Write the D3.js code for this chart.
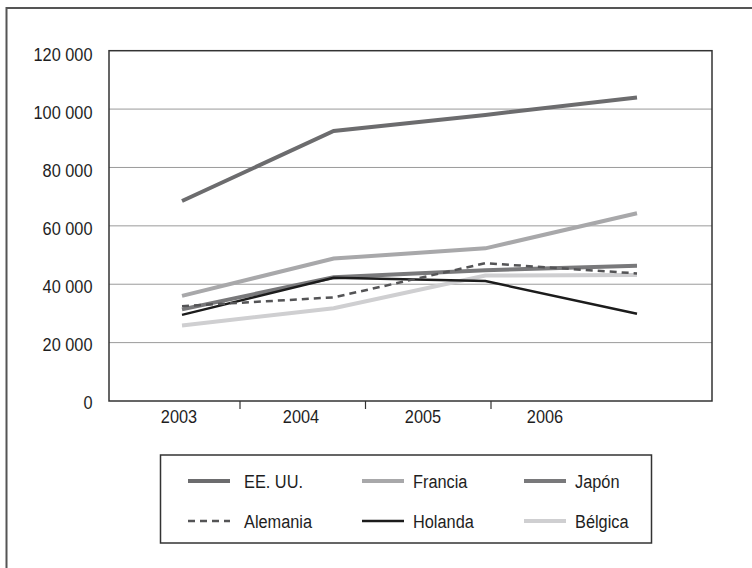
<!DOCTYPE html>
<html>
<head>
<meta charset="utf-8">
<script src="https://cdn.jsdelivr.net/npm/d3@7"></script>
<style>
body{margin:0;background:#fff;}
svg text{font-family:"Liberation Sans",Arial,sans-serif;font-size:19px;fill:#1e1e1e;}
</style>
</head>
<body>
<div id="chart"></div>
<script>
// données
var years = ["2003","2004","2005","2006"];
var eeuu     = [68500, 92500, 98000, 104000];
var francia  = [36000, 48800, 52300, 64300];
var japon    = [31400, 42400, 44800, 46300];
var alemania = [32500, 35500, 47200, 43700];
var holanda  = [29500, 42200, 41100, 29900];
var belgica  = [25900, 31800, 43000, 43200];
var yTicks = [0, 20000, 40000, 60000, 80000, 100000, 120000];

var series = [
	{name:"EE. UU.",  values:eeuu,     color:"#6c6c6e", width:4,   dash:null},
	{name:"Francia",  values:francia,  color:"#a8a8aa", width:4,   dash:null},
	{name:"Japón",    values:japon,    color:"#79797b", width:4,   dash:null},
	{name:"Alemania", values:alemania, color:"#545456", width:2.5, dash:"7,5"},
	{name:"Holanda",  values:holanda,  color:"#1c1c1c", width:2.5, dash:null},
	{name:"Bélgica",  values:belgica,  color:"#cfcfd1", width:4,   dash:null}
];
var drawOrder = ["Bélgica","Francia","Japón","Holanda","Alemania","EE. UU."];

var W = 752, H = 568;
var plot = {left:109, top:50.7, right:712, bottom:401};
var narrow = 0.86; // police étroite simulée

var svg = d3.select("#chart").append("svg")
	.attr("width", W)
	.attr("height", H);

function place(x, y) {
	return "translate(" + x + "," + y + ") scale(" + narrow + ",1)";
}

// cadre extérieur
svg.append("rect")
	.attr("x", 6.5).attr("y", 8)
	.attr("width", 800).attr("height", 600)
	.attr("fill", "none")
	.attr("stroke", "#555")
	.attr("stroke-width", 2);

var y = d3.scaleLinear()
	.domain([0, 120000])
	.range([plot.bottom, plot.top]);

// position des points
var x = d3.scalePoint()
	.domain(years)
	.range([182, 637]);

// étiquettes et graduations de l'axe x
var xLabel = d3.scaleBand().domain(years).range([118, 606]);
var xTick = d3.scaleBand().domain(years).range([114.5, 616.5]);

var fmt = d3.formatLocale({decimal:",", thousands:" ", grouping:[3], currency:["",""]}).format(",d");

// grille
svg.append("g").selectAll("line")
	.data(yTicks.filter(function(d){ return d > 0 && d < 120000; }))
	.enter().append("line")
	.attr("x1", plot.left).attr("x2", plot.right)
	.attr("y1", function(d){ return y(d); })
	.attr("y2", function(d){ return y(d); })
	.attr("stroke", "#9a9a9a")
	.attr("stroke-width", 1);

// cadre du graphe
svg.append("rect")
	.attr("x", plot.left).attr("y", plot.top)
	.attr("width", plot.right - plot.left)
	.attr("height", plot.bottom - plot.top)
	.attr("fill", "none")
	.attr("stroke", "#333")
	.attr("stroke-width", 1.5);

// étiquettes y
svg.append("g").selectAll("text")
	.data(yTicks)
	.enter().append("text")
	.attr("transform", function(d){ return place(92.5, y(d) + 1 + 3 * d / 120000); })
	.attr("dy", "0.35em")
	.attr("text-anchor", "end")
	.text(function(d){ return fmt(d); });

// graduations x
svg.append("g").selectAll("line")
	.data(years.slice(1))
	.enter().append("line")
	.attr("x1", function(d){ return xTick(d); })
	.attr("x2", function(d){ return xTick(d); })
	.attr("y1", plot.bottom)
	.attr("y2", plot.bottom + 8)
	.attr("stroke", "#333")
	.attr("stroke-width", 1.2);

svg.append("g").selectAll("text")
	.data(years)
	.enter().append("text")
	.attr("transform", function(d){ return place(xLabel(d) + xLabel.bandwidth() / 2, 416.5); })
	.attr("dy", "0.35em")
	.attr("text-anchor", "middle")
	.text(function(d){ return d; });

// courbes
var line = d3.line()
	.x(function(d, i){ return x(years[i]); })
	.y(function(d){ return y(d); });

var ordered = drawOrder.map(function(n){ return series.find(function(s){ return s.name === n; }); });

svg.append("g").selectAll("path")
	.data(ordered)
	.enter().append("path")
	.attr("d", function(s){ return line(s.values); })
	.attr("fill", "none")
	.attr("stroke", function(s){ return s.color; })
	.attr("stroke-width", function(s){ return s.width; })
	.attr("stroke-dasharray", function(s){ return s.dash; })
	.attr("stroke-linejoin", "miter");

// légende
var legend = svg.append("g");
legend.append("rect")
	.attr("x", 160.5).attr("y", 455)
	.attr("width", 491).attr("height", 88)
	.attr("fill", "none")
	.attr("stroke", "#333")
	.attr("stroke-width", 1.5);

var colX = [188, 362, 524];
var rowY = [481, 521];

var items = legend.selectAll("g.item")
	.data(series)
	.enter().append("g")
	.attr("class", "item")
	.attr("transform", function(d, i){ return "translate(" + colX[i % 3] + "," + rowY[Math.floor(i / 3)] + ")"; });

items.append("line")
	.attr("x1", 0).attr("x2", 42)
	.attr("y1", 0).attr("y2", 0)
	.attr("stroke", function(s){ return s.color; })
	.attr("stroke-width", function(s){ return s.width; })
	.attr("stroke-dasharray", function(s){ return s.dash; });

items.append("text")
	.attr("transform", function(d, i){ return place(i % 3 === 0 ? 56 : 51, 0); })
	.attr("dy", "0.35em")
	.text(function(s){ return s.name; });
</script>
</body>
</html>
